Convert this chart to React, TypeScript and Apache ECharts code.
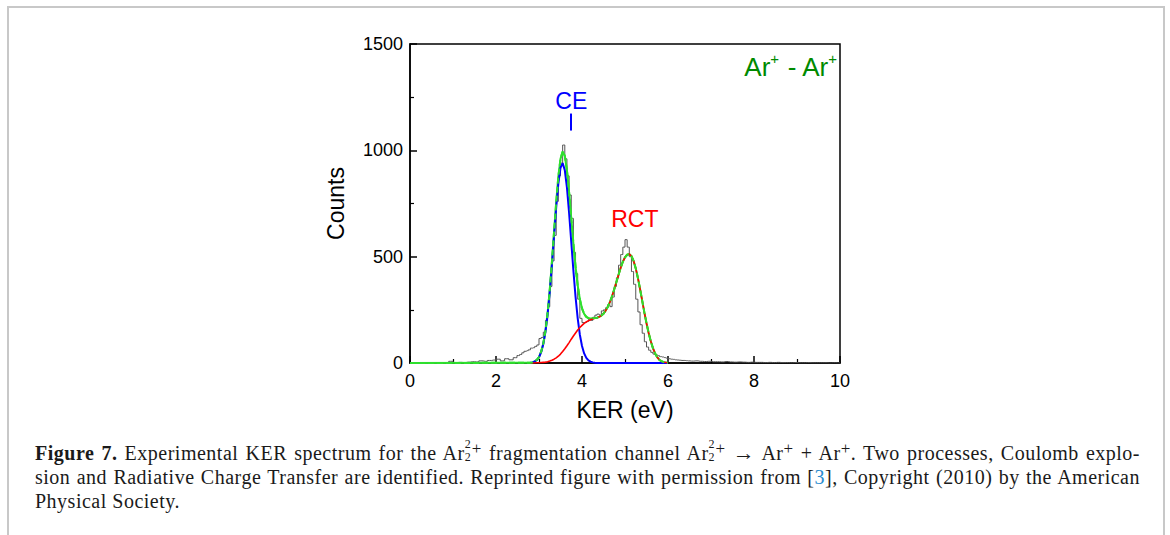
import React, { useEffect, useRef } from "react";
import * as echarts from "echarts";

// ---------- data ----------
// histogram: bin centres (eV) and counts
const histXLeft = [0.05, 0.15, 0.25, 0.35, 0.45, 0.55, 0.65, 0.75, 0.85, 0.95, 1.05, 1.15, 1.25, 1.35, 1.45, 1.55, 1.65, 1.75, 1.85, 1.95, 2.05, 2.15, 2.25, 2.35, 2.45];
const histYLeft = [0, 0, 0, 0, 0, 0, 0, 0, 2, 8, 2, 3, 2, 4, 6, 5, 10, 8, 12, 14, 18, 10, 20, 15, 25];
const histYMid = [
  35, 40, 48, 55, 58, 62, 70, 72, 78, 85,
  115, 120, 145, 200, 265, 360, 480, 600, 760, 880,
  940, 1025, 960, 880, 790, 680, 520, 420, 300, 210,
  190, 190, 195, 205, 200, 215, 225, 230, 225, 245,
  250, 260, 275, 265, 310, 360, 400, 460, 510, 545,
  580, 545, 500, 430, 370, 300, 240, 180, 140, 100,
  75, 60, 50, 42, 38, 35, 30, 28, 25, 22,
  20, 18, 17, 15, 14, 13, 12, 12, 11, 10,
]; // bins centred 2.525 ... 6.475 (0.05 eV wide)
const histYRight = [9, 10, 8, 7, 8, 6, 6, 5, 7, 5, 4, 5, 4, 3, 4, 3, 3, 2, 3, 2, 3, 2, 2, 1, 2, 1, 1, 2, 1, 1, 1, 1, 0, 1, 0]; // 6.55 ... 9.95

// fitted curves sampled at 2.80, 2.85, ... eV
const ceFit = [1, 3, 7, 14, 27, 51, 89, 147, 228, 334, 460, 598, 732, 844, 918, 940, 907, 825, 706, 570, 434, 311, 210, 133, 80, 45, 24, 12, 6, 3, 1, 0, 0];
const rctFit = [
  0, 0, 0, 1, 1, 2, 3, 4, 6, 9,
  13, 18, 24, 32, 42, 54, 67, 81, 96, 112,
  127, 141, 155, 167, 177, 186, 193, 199, 203, 207,
  210, 213, 217, 223, 232, 246, 264, 287, 315, 347,
  381, 415, 448, 476, 497, 509, 512, 503, 480, 445,
  400, 348, 293, 238, 187, 141, 102, 70, 45, 27,
  15, 8, 4, 2, 0,
];
const totalFit = [
  1, 3, 7, 15, 28, 53, 92, 151, 234, 343,
  473, 616, 756, 876, 960, 994, 974, 906, 802, 682,
  561, 452, 365, 300, 257, 231, 217, 211, 209, 210,
  211, 213, 217, 223, 232, 246, 264, 287, 315, 347,
  381, 415, 448, 476, 497, 509, 512, 503, 480, 445,
  400, 348, 293, 238, 187, 141, 102, 70, 45, 27,
  15, 8, 4, 2, 0,
];
const xTicks = [0, 2, 4, 6, 8, 10];
const yTicks = [0, 500, 1000, 1500];

const FONT = '"Liberation Sans", Arial, sans-serif';

function Stack() {
  return (
    <>
      <span style={{ position: "relative", display: "inline-block", width: 7, height: 20, verticalAlign: "baseline" }}>
        <span style={{ position: "absolute", left: 0, top: -3, fontSize: 12, lineHeight: "14px" }}>2</span>
        <span style={{ position: "absolute", left: 0, top: 10, fontSize: 12, lineHeight: "14px" }}>2</span>
      </span>
      <span style={{ position: "relative", top: "-0.38em", fontSize: "0.85em", lineHeight: 0 }}>+</span>
    </>
  );
}
const Sup = () => <span style={{ position: "relative", top: "-0.38em", fontSize: "0.85em", lineHeight: 0 }}>+</span>;

export default function App() {
  const ref = useRef<HTMLDivElement>(null);
  useEffect(() => {
    document.body.style.margin = "0";
    const chart = echarts.init(ref.current!, null, { renderer: "svg" });
    const start = 2.8;
    const xAt = (i: number) => +(start + i * 0.05).toFixed(2);
    const hist: number[][] = [[0, 0]];
    histXLeft.forEach((x, i) => hist.push([x, histYLeft[i]]));
    histYMid.forEach((y, i) => hist.push([+(2.525 + i * 0.05).toFixed(3), y]));
    histYRight.forEach((y, i) => hist.push([+(6.55 + i * 0.1).toFixed(2), y]));
    hist.push([10, 0]);
    const ce = ceFit.map((y, i) => [xAt(i), y]);
    ce.push([6.0, 0]);
    const rct = rctFit.map((y, i) => [xAt(i), y]);
    const tot = [[0, 0], ...totalFit.map((y, i) => [xAt(i), y])];

    const axisCommon = {
      axisLine: { lineStyle: { color: "#000", width: 1.5 } },
      axisTick: { inside: true, length: 7, lineStyle: { color: "#000", width: 1.5 } },
      minorTick: { show: true, splitNumber: 2, length: 4, lineStyle: { color: "#000", width: 1.2 } },
      splitLine: { show: false },
      axisLabel: { fontSize: 18, color: "#000", fontFamily: FONT, formatter: (v: number) => String(v) },
      nameTextStyle: { fontSize: 23, color: "#000", fontFamily: FONT },
    };

    chart.setOption({
      animation: false,
      grid: { left: 410, top: 44, width: 430, height: 319, show: true, borderColor: "#000", borderWidth: 1.5, backgroundColor: "transparent" },
      xAxis: {
        type: "value", min: xTicks[0], max: xTicks[xTicks.length - 1], interval: 2,
        ...axisCommon,
        axisLabel: { ...axisCommon.axisLabel, margin: 9 },
        name: "KER (eV)", nameLocation: "middle", nameGap: 35,
      },
      yAxis: {
        type: "value", min: yTicks[0], max: yTicks[yTicks.length - 1], interval: 500,
        ...axisCommon,
        axisLabel: { ...axisCommon.axisLabel, margin: 7 },
        name: "Counts", nameLocation: "middle", nameGap: 63, nameRotate: 90,
      },
      series: [
        { type: "line", data: hist, step: "middle", showSymbol: false, z: 1, lineStyle: { color: "#555555", width: 1 } },
        { type: "line", data: tot, showSymbol: false, z: 2, lineStyle: { color: "#2ee02e", width: 2 } },
        { type: "line", data: ce, showSymbol: false, z: 3, lineStyle: { color: "#0000ff", width: 2 } },
        { type: "line", data: rct, showSymbol: false, z: 3, lineStyle: { color: "#ff0000", width: 1.6 } },
        { type: "line", data: tot, showSymbol: false, z: 4, lineStyle: { color: "#2ee02e", width: 2, type: [6, 3] } },
      ],
    });

    const p = (x: number, y: number) => chart.convertToPixel({ gridIndex: 0 }, [x, y]) as number[];
    const ceP = p(3.75, 1234);
    const barTop = p(3.744, 1173);
    const barBot = p(3.744, 1093);
    const rctP = p(5.23, 675);
    const arP = p(9.93, 1400);
    chart.setOption({
      graphic: [
        { type: "text", x: ceP[0], y: ceP[1], style: { text: "CE", fill: "#0000ff", font: `23px ${FONT}`, align: "center", verticalAlign: "middle" } },
        { type: "line", shape: { x1: barTop[0], y1: barTop[1], x2: barBot[0], y2: barBot[1] }, style: { stroke: "#0000ff", lineWidth: 2 } },
        { type: "text", x: rctP[0], y: rctP[1], style: { text: "RCT", fill: "#ff0000", font: `23px ${FONT}`, align: "center", verticalAlign: "middle" } },
        {
          type: "text", x: arP[0], y: arP[1],
          style: {
            text: "{a|Ar}{s|+}{a| - Ar}{s|+}", align: "right", verticalAlign: "middle",
            rich: {
              a: { fontSize: 26, fontFamily: FONT, fill: "#008a00", lineHeight: 30, verticalAlign: "bottom" },
              s: { fontSize: 15, fontFamily: FONT, fill: "#008a00", lineHeight: 30, verticalAlign: "top", padding: [1, 0, 0, 0] },
            },
          },
        },
      ],
    });
    return () => chart.dispose();
  }, []);

  const lineStyle: React.CSSProperties = { textAlign: "justify", textAlignLast: "justify", height: 24.5 };
  return (
    <div style={{ position: "relative", width: 1170, height: 535, overflow: "hidden", background: "#fff" }}>
      <div style={{ position: "absolute", left: 7, top: 6, width: 1154, height: 600, border: "2px solid #c8c8c8", borderBottom: "none" }} />
      <div ref={ref} style={{ position: "absolute", left: 0, top: 0, width: 1170, height: 440 }} />
      <div style={{ position: "absolute", left: 35, top: 440, width: 1105, fontFamily: '"Liberation Serif", "DejaVu Serif", serif', fontSize: 20, letterSpacing: 0.5, lineHeight: "24.5px", color: "#1a1a1a" }}>
        <div style={lineStyle}>
          <b>Figure 7.</b> Experimental KER spectrum for the Ar<Stack /> fragmentation channel Ar<Stack /> <span style={{ fontSize: 22, lineHeight: 0 }}>→</span> Ar<Sup /> + Ar<Sup />. Two processes, Coulomb explo-
        </div>
        <div style={lineStyle}>
          sion and Radiative Charge Transfer are identified. Reprinted figure with permission from [<span style={{ color: "#2a8ccf" }}>3</span>], Copyright (2010) by the American
        </div>
        <div style={{ height: 24.5 }}>Physical Society.</div>
      </div>
    </div>
  );
}
